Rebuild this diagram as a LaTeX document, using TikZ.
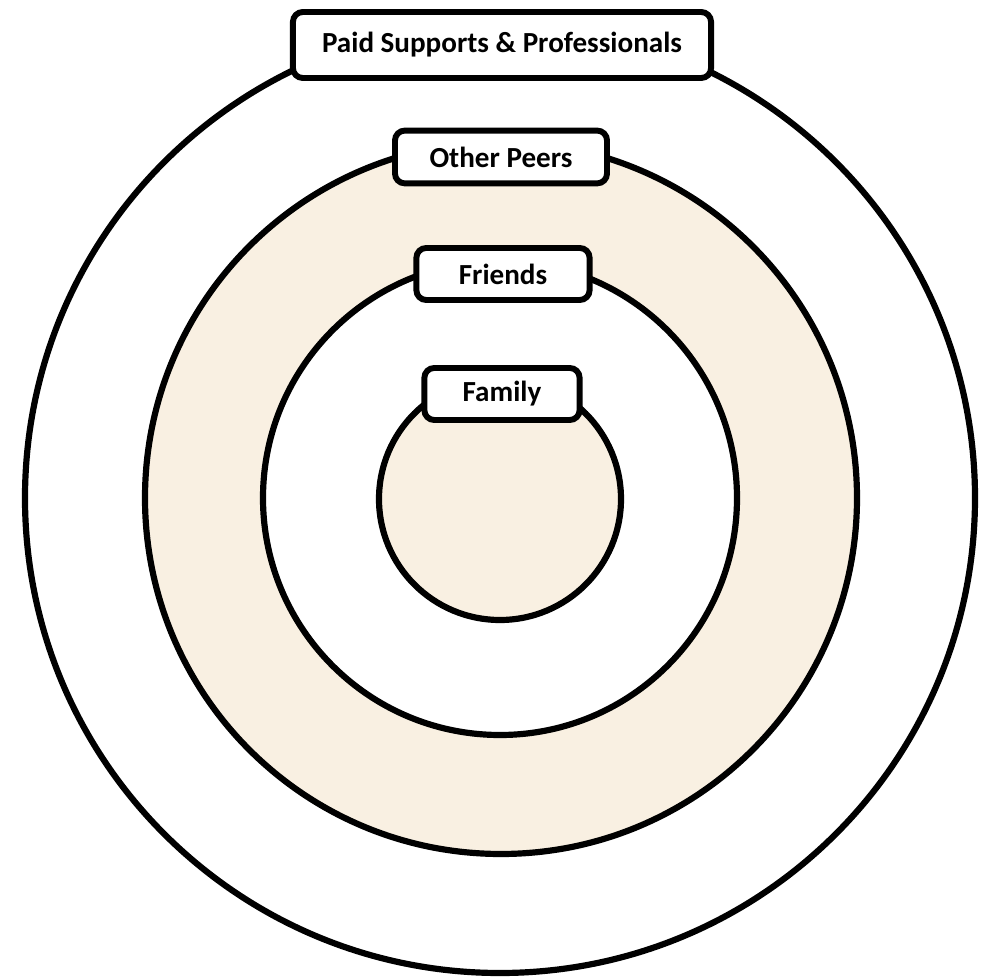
\documentclass[tikz,border=0pt]{standalone}
\usepackage{fontspec}
\setmainfont{Carlito}
\definecolor{ringtan}{RGB}{249,240,226}
\tikzset{
	ring/.style = {draw, line width = 4.4pt},
	tag/.style = {draw, line width = 4.2pt, fill = white, rounded corners = 7pt, inner sep = 0pt, font = \bfseries\fontsize{20.7}{24}\selectfont}
}
\begin{document}
\begin{tikzpicture} [x = 0.025cm, y = 0.025cm]
	\useasboundingbox (-500,-479) rectangle (492,498);
	\draw [ring, fill = white] (0,0) circle (475);
	\draw [ring, fill = ringtan] (1,0) circle (356);
	\draw [ring, fill = white] (0,0) circle (237);
	\draw [ring, fill = ringtan] (0,-1) circle (121);
	%\node at (0,0) {};
	\node [tag, minimum width = 10.45cm, minimum height = 1.65cm] (paid) at (2,453) {Paid Supports \& Professionals};
	\node [tag, minimum width = 5.3cm, minimum height = 1.32cm] (peers) at (1,341) {Other Peers};
	\node [tag, minimum width = 4.33cm, minimum height = 1.3cm] (friends) at (3,224) {Friends};
	\node [tag, minimum width = 3.88cm, minimum height = 1.3cm] (family) at (2,104) {Family};
\end{tikzpicture}
\end{document}
